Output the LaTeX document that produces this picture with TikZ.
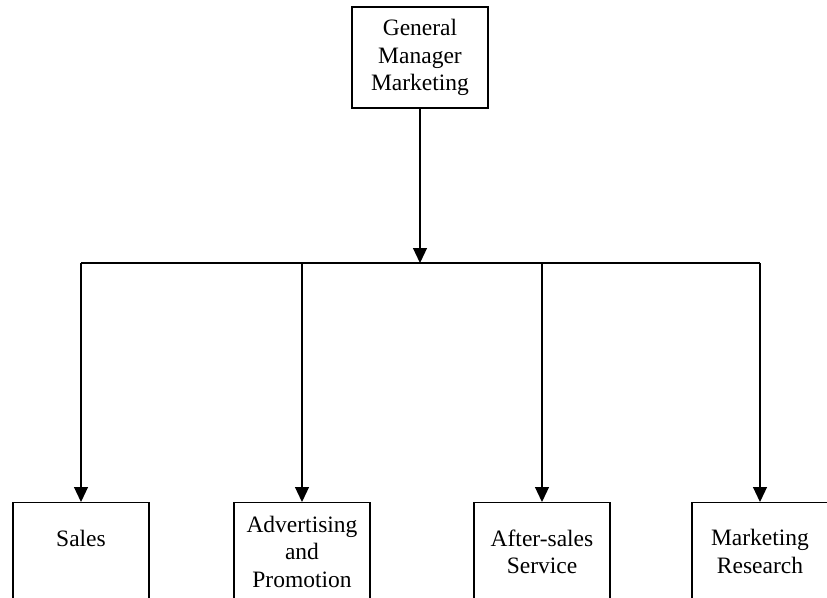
\documentclass[tikz,border=0pt]{standalone}
\usepackage{fontspec}
\setmainfont{Liberation Serif}
\usetikzlibrary{positioning, arrows.meta}

\begin{document}
\begin{tikzpicture}[-{Triangle[length=15pt, width=14pt]}, x=1pt, y=-1pt, line width=1.2pt,
            unit/.style ={draw, rectangle, align=center, minimum width=136pt,
            font=\fontsize{23.5}{27.5}\selectfont},
            dept/.style ={unit, anchor=north, minimum height=98pt}]

        \useasboundingbox (0,0) rectangle (827,597);
        \clip (0,0) rectangle (827,597);

        %el jefe arriba
        \node[unit, minimum height=101pt] (gm) at (420,57.5) {General\\Manager\\Marketing};

        %los departamentos abajo
        \node[dept] (sales) at (81,502) {Sales\\ \mbox{}};
        \node[dept] (adv) at (302,502) {Advertising\\and\\Promotion};
        \node[dept] (after) at (542,502) {After-sales\\Service};
        \node[dept] (research) at (760,502) {Marketing\\Research};

        %puntos de la barra horizontal
        \coordinate (hub) at (420,263);
        \coordinate (j1) at (81,263);
        \coordinate (j2) at (302,263);
        \coordinate (j3) at (542,263);
        \coordinate (j4) at (760,263);

        \path (gm) edge (hub);
        \draw[-] (j1) -- (j4);
        \path (j1) edge (sales);
        \path (j2) edge (adv);
        \path (j3) edge (after);
        \path (j4) edge (research);
    \end{tikzpicture}
\end{document}
